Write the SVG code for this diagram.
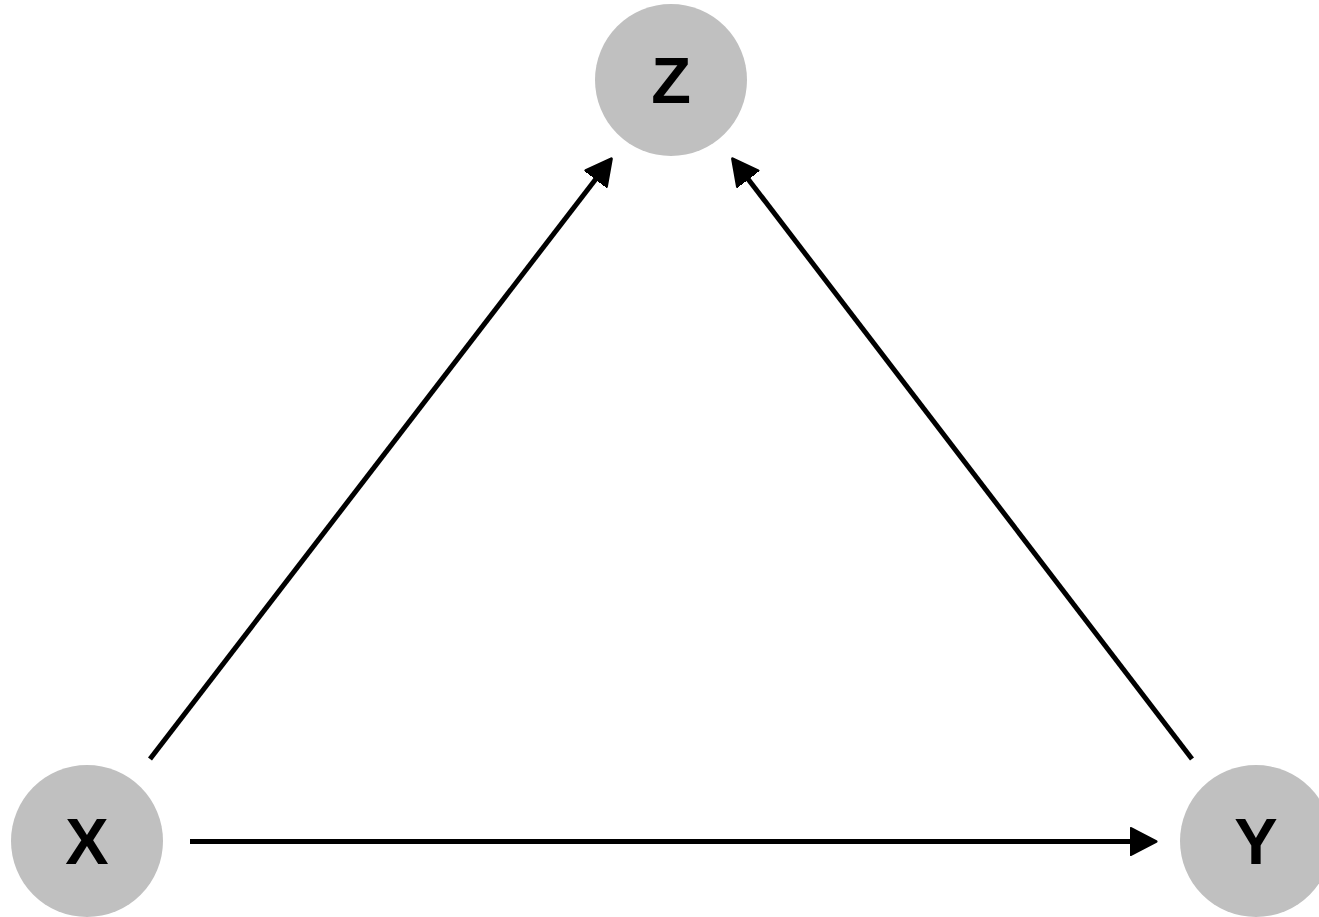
<svg xmlns="http://www.w3.org/2000/svg" width="1319" height="917" viewBox="0 0 1319 917">
<style>
.node{fill:#c0c0c0}
.lbl{font-family:"Liberation Sans",Arial,sans-serif;font-weight:bold;font-size:65px;fill:#000;text-anchor:middle}
.edge{stroke:#000;stroke-width:5;fill:none;marker-end:url(#arr)}
</style>
<defs>
<marker id="arr" markerUnits="userSpaceOnUse" viewBox="0 -16 32 32" markerWidth="32" markerHeight="32" refX="10" refY="0" orient="auto">
<path d="M1,-13 L26,0 L1,13 Z" fill="#000" stroke="#000" stroke-width="3" stroke-linejoin="round"/>
</marker>
</defs>
<rect width="1319" height="917" fill="#fff"/>
<g id="connectors">
<line class="edge" x1="150" y1="759" x2="601.6" y2="171.5"/>
<line class="edge" x1="1192" y1="759" x2="742.3" y2="171.5"/>
<line class="edge" x1="190" y1="841.5" x2="1140" y2="841.5"/>
</g>
<g id="node-Z">
<circle class="node" cx="671" cy="80" r="76"/>
<text class="lbl" x="671" y="103">Z</text>
</g>
<g id="node-X">
<circle class="node" cx="87" cy="841" r="76"/>
<text class="lbl" x="87" y="864">X</text>
</g>
<g id="node-Y">
<circle class="node" cx="1256" cy="841" r="76"/>
<text class="lbl" x="1256" y="864">Y</text>
</g>
</svg>
